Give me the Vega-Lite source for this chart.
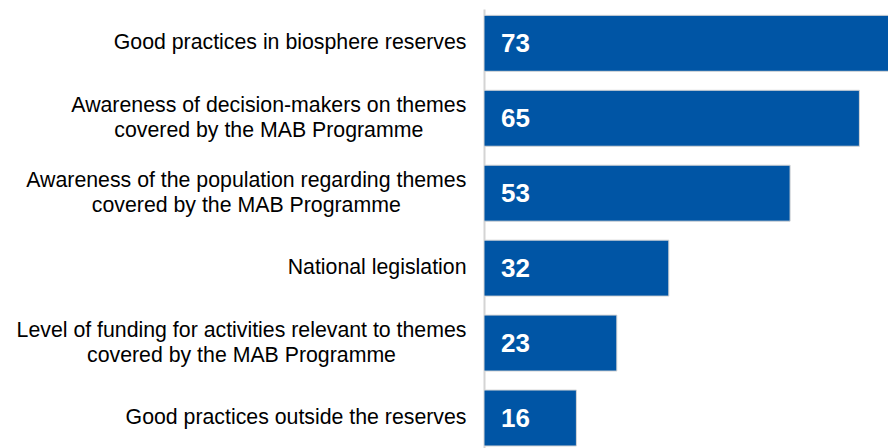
{
  "$schema": "https://vega.github.io/schema/vega-lite/v6.json",
  "autosize": "none",
  "width": 404,
  "height": 439,
  "padding": {"left": 484, "top": 9, "right": 0, "bottom": 0},
  "background": "white",
  "config": {"view": {"stroke": null}},
  "data": {
    "values": [
      {"label": "Good practices in biosphere reserves", "value": 73},
      {"label": "Awareness of decision-makers on themes|covered by the MAB Programme", "value": 65},
      {"label": "Awareness of the population regarding themes|covered by the MAB Programme", "value": 53},
      {"label": "National legislation", "value": 32},
      {"label": "Level of funding for activities relevant to themes|covered by the MAB Programme", "value": 23},
      {"label": "Good practices outside the reserves", "value": 16}
    ]
  },
  "encoding": {
    "y": {
      "field": "label",
      "type": "nominal",
      "sort": null,
      "scale": {"paddingInner": 0.253, "paddingOuter": 0.0555, "align": 0.76},
      "axis": {
        "title": null,
        "ticks": false,
        "tickSize": 0,
        "labelExpr": "split(datum.label, '|')",
        "labelAlign": {"condition": {"test": "indexof(datum.label, '|') >= 0", "value": "center"}, "value": "right"},
        "labelPadding": {
          "condition": [
            {"test": "indexof(datum.label, 'decision-makers') >= 0", "value": 215.7},
            {"test": "indexof(datum.label, 'population') >= 0", "value": 238.2},
            {"test": "indexof(datum.label, 'funding') >= 0", "value": 243.0}
          ],
          "value": 18
        },
        "labelOffset": {"condition": {"test": "indexof(datum.label, '|') >= 0", "value": -12.5}, "value": 0},
        "labelFont": "Liberation Sans",
        "labelFontSize": 21.3,
        "labelLineHeight": 25,
        "labelColor": "#000000",
        "labelLimit": 0,
        "domainColor": "#d4d4d4",
        "domainWidth": 2,
        "grid": false
      }
    }
  },
  "layer": [
    {
      "mark": {"type": "bar", "color": "#0055a5", "stroke": "#d6d6d6", "strokeWidth": 1, "clip": true},
      "encoding": {
        "x": {"field": "value", "type": "quantitative", "scale": {"domain": [0, 69.95], "nice": false, "zero": true}, "axis": null}
      }
    },
    {
      "mark": {"type": "text", "align": "left", "baseline": "middle", "dx": 17, "dy": 1, "font": "Liberation Sans", "fontSize": 26, "fontWeight": "bold", "color": "white"},
      "encoding": {
        "x": {"datum": 0, "type": "quantitative"},
        "text": {"field": "value", "type": "quantitative"}
      }
    }
  ]
}
